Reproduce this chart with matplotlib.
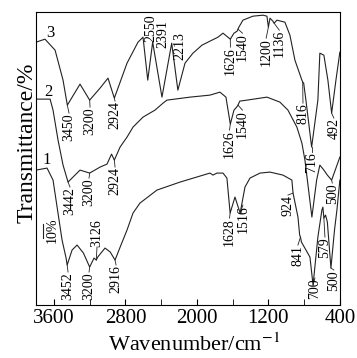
import matplotlib.pyplot as plt

# FTIR traces (wavenumber in cm-1, transmittance in arbitrary offset units)
wn3 = [3800, 3700, 3587, 3498, 3450, 3308, 3200, 3084, 2995, 2924, 2782, 2659, 2603,
       2550, 2495, 2391, 2282, 2213, 2133, 2044, 1943, 1854, 1764, 1708, 1626, 1585,
       1550, 1540, 1530, 1485, 1373, 1261, 1216, 1200, 1182, 1150, 1136, 1104, 1015,
       959, 903, 825, 816, 805, 780, 716, 646, 624, 579, 534, 492, 444, 400]
t3 = [263, 266, 255, 225, 200, 221, 205, 217, 227, 207, 242, 263, 268,
      225, 263, 208, 262, 215, 242, 252, 260, 264, 268, 272, 266, 272,
      274, 276, 278, 285, 289, 290, 289, 278, 287, 284, 282, 285, 283,
      270, 245, 225, 223, 222, 205, 158, 205, 252, 250, 225, 192, 225, 253]

wn2 = [3800, 3643, 3610, 3554, 3498, 3442, 3364, 3308, 3200, 3084, 3006, 2955, 2924,
       2860, 2782, 2715, 2603, 2469, 2379, 2335, 2077, 1854, 1742, 1675, 1626, 1585,
       1555, 1540, 1520, 1440, 1216, 1071, 981, 881, 825, 791, 713, 660, 624, 579,
       540, 492, 444, 400]
t2 = [206, 206, 195, 165, 140, 123, 130, 135, 132, 138, 141, 151, 145,
      158, 168, 178, 188, 195, 202, 205, 208, 210, 213, 208, 181, 195,
      198, 200, 204, 205, 208, 203, 195, 178, 162, 145, 88, 125, 140, 135,
      130, 125, 137, 148]

wn1 = [3800, 3677, 3610, 3509, 3464, 3452, 3397, 3341, 3270, 3200, 3151, 3126, 3110,
       3028, 2970, 2916, 2850, 2782, 2715, 2637, 2447, 2189, 1854, 1820, 1776, 1708,
       1664, 1628, 1574, 1516, 1462, 1406, 1294, 1183, 1037, 937, 924, 869, 850, 841,
       830, 735, 700, 646, 601, 590, 579, 560, 540, 500, 460, 433, 400]
t1 = [135, 137, 125, 65, 47, 40, 55, 60, 52, 38, 47, 45, 48,
      57, 53, 45, 60, 75, 92, 102, 115, 123, 132, 130, 132, 132,
      127, 92, 108, 92, 118, 127, 132, 133, 130, 125, 112, 88, 70, 68,
      63, 48, 20, 68, 95, 98, 87, 90, 83, 37, 75, 95, 125]

# peak labels: (text, peak wn, peak t, label wn, label edge t, anchor)
labels = [
    ("3450", 3450, 200, 3431, 192, "top"), ("3200", 3200, 205, 3196, 198, "top"),
    ("2924", 2924, 207, 2916, 204, "top"), ("2550", None, None, 2517, 263, "bottom"),
    ("2391", None, None, 2379, 257, "bottom"), ("2213", None, None, 2189, 245, "bottom"),
    ("1626", 1626, 266, 1625, 258, "top"), ("1540", 1540, 276, 1490, 272, "top"),
    ("1200", 1200, 278, 1225, 267, "top"), ("1136", 1136, 282, 1078, 275, "top"),
    ("816", 816, 223, 813, 202, "top"), ("716", 716, 158, 716, 153, "top"),
    ("492", 492, 192, 467, 187, "top"),
    ("3442", 3442, 123, 3420, 118, "top"), ("3200", 3200, 132, 3207, 127, "top"),
    ("2924", 2924, 145, 2916, 138, "top"), ("1626", 1626, 181, 1635, 175, "top"),
    ("1540", 1540, 200, 1490, 195, "top"), ("500", 492, 125, 485, 122, "top"),
    ("3452", 3452, 40, 3442, 33, "top"), ("3200", 3200, 38, 3207, 33, "top"),
    ("3126", 3126, 45, 3118, 58, "bottom"), ("2916", 2916, 45, 2905, 40, "top"),
    ("1628", 1628, 92, 1635, 87, "top"), ("1516", 1516, 92, 1485, 100, "top"),
    ("924", 924, 112, 981, 110, "top"), ("841", 841, 68, 869, 60, "top"),
    ("700", 700, 20, 679, 27, "top"), ("579", 579, 87, 567, 68, "top"),
    ("500", 500, 37, 467, 35, "top"),
]

plt.rcParams['font.family'] = ['Liberation Serif', 'DejaVu Serif']
plt.rcParams['mathtext.fontset'] = 'stix'

fig = plt.figure(figsize=(3.57, 3.58), dpi=100)
ax = fig.add_axes([0.101, 0.148, 0.851, 0.818])

for wn, t in [(wn3, t3), (wn2, t2), (wn1, t1)]:
    ax.plot(wn, t, color='#222222', lw=0.8)

ax.text(3643, 272, "3", fontsize=12, ha='center', va='center')
ax.text(3666, 213, "2", fontsize=12, ha='center', va='center')
ax.text(3677, 145, "1", fontsize=12, ha='center', va='center')

for txt, pw, pt, lx, ly, va in labels:
    if pw is not None:
        ax.plot([pw, lx], [pt, ly], color='#222222', lw=0.6)
    ax.text(lx, ly, txt, rotation=90, fontsize=10, ha='center', va=va)

# 10% scale bar
ax.plot([3722, 3722], [67, 81], color='#222222', lw=0.8)
ax.text(3621, 75, "10%", rotation=90, fontsize=10, ha='center', va='center')

ax.set_xlim(3800, 400)
ax.set_ylim(0, 293)
ax.set_xticks([3600, 2800, 2000, 1200, 400])
ax.set_xticks([3200, 2400, 1600, 800], minor=True)
ax.set_yticks([])
ax.tick_params(axis='x', direction='in', length=4, labelsize=15, pad=3)
ax.tick_params(axis='x', which='minor', direction='in', length=4)
ax.set_xlabel("Wavenumber/cm$^{-1}$", fontsize=16, va='baseline')
ax.xaxis.set_label_coords(0.52, -0.158)
ax.set_ylabel("Transmittance/%", fontsize=17)
ax.yaxis.set_label_coords(0.004, 0.553)

fig.savefig("out.png", dpi=100)
